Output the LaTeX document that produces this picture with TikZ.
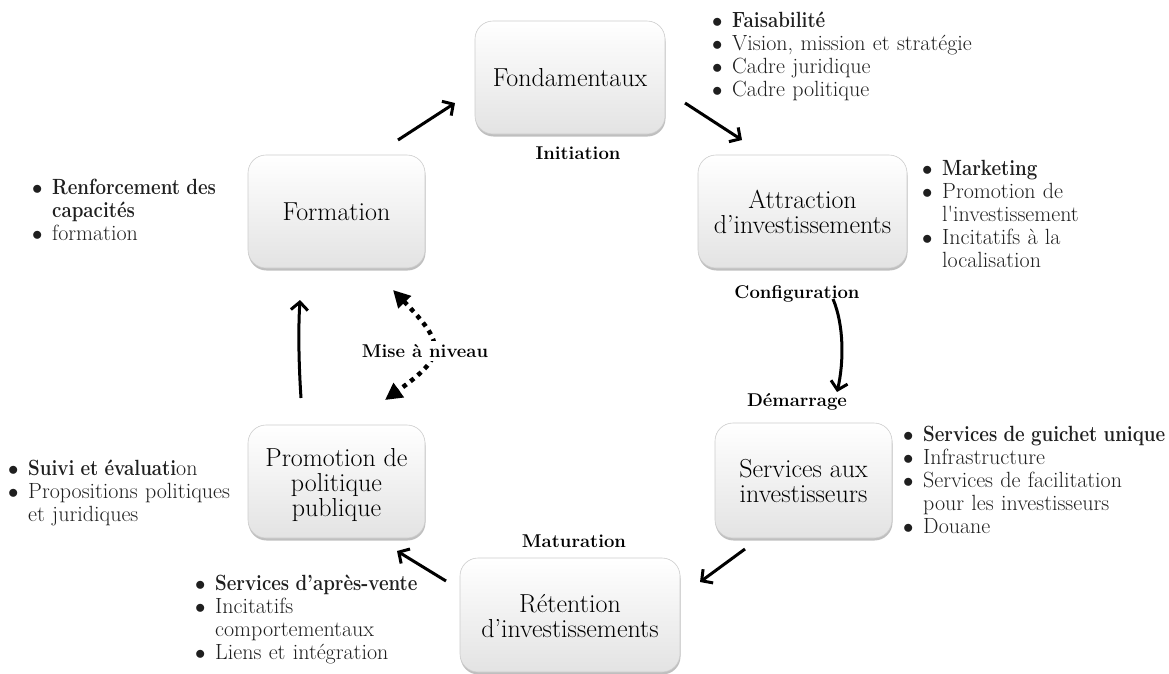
\documentclass[tikz,border=0pt]{standalone}
\usepackage{graphicx}
\usetikzlibrary{arrows.meta,shadows}
\newcommand\bitem{\par\hangindent=20pt\hangafter=1\noindent\makebox[20pt][l]{$\bullet$}}
\newcommand\bb[1]{\scalebox{0.85}[1]{\bfseries #1}}
\newcommand\ml[1]{\vbox{\baselineskip=25pt\halign{\hfil##\hfil\cr#1\crcr}}}
\begin{document}
\begin{tikzpicture}[x=1pt,y=-1pt,
  box/.style={draw=black!20, line width=0.6pt, rounded corners=18pt,
    top color=white, middle color=white, bottom color=black!11,
    drop shadow={opacity=0.5, shadow xshift=0.5pt, shadow yshift=-2.5pt},
    inner sep=2pt, text=black,
    font=\fontsize{26}{25}\selectfont},
  two/.style={text height=51pt, text depth=7pt},
  three/.style={text height=77pt, text depth=7pt},
  phase/.style={font=\bfseries\fontsize{18.5}{20}\selectfont, text=black, inner sep=1pt},
  blist/.style={anchor=north west, inner sep=0pt, text width=300pt, align=left,
    font=\fontsize{22}{23}\selectfont, text=black!88},
  arr/.style={line width=3pt, -{Straight Barb[length=8pt,width=17pt]}},
  dotarr/.style={line width=4.5pt, dash pattern=on 4.5pt off 5pt,
    {Triangle[length=17pt,width=17pt]}-{Triangle[length=17pt,width=17pt]}}
]
\useasboundingbox (0,0) rectangle (1169,673);

% boxes
\node[box, minimum width=190pt, minimum height=113pt] (fond) at (570,77.5) {Fondamentaux};
\node[box, two, minimum width=209pt, minimum height=113pt] (attr) at (802.5,211.5) {\ml{Attraction\cr d’investissements}};
\node[box, minimum width=177pt, minimum height=113pt] (form) at (336.5,211.5) {Formation};
\node[box, two, minimum width=177pt, minimum height=115pt] (serv) at (803.5,480.5) {\ml{Services aux\cr investisseurs}};
\node[box, three, minimum width=177pt, minimum height=113pt] (prom) at (336.5,481.5) {\ml{Promotion de\cr politique\cr publique}};
\node[box, two, minimum width=220pt, minimum height=114pt] (ret) at (570,615) {\ml{Rétention\cr d’investissements}};

% phase labels
\node[phase] (init) at (578,153) {Initiation};
\node[phase] (conf) at (797,294) {Configuration};
\node[phase] (dema) at (797,402) {Démarrage};
\node[phase] (matu) at (574,541) {Maturation};

% lists
\node[blist] (lfond) at (712,4) {\bitem\bb{Faisabilité}\bitem Vision, mission et stratégie\bitem Cadre juridique\bitem Cadre politique\par};
\node[blist, text width=230pt] (lattr) at (922,152) {\bitem\bb{Marketing}\bitem Promotion de\newline l\textquotesingle investissement\bitem Incitatifs à la\newline localisation\par};
\node[blist, text width=240pt] (lform) at (32,171) {\bitem\bb{Renforcement des}\newline\bb{capacités}\bitem formation\par};
\node[blist, text width=270pt] (lprom) at (8,452) {\bitem\bb{Suivi et évaluati}on\bitem Propositions politiques\newline et juridiques\par};
\node[blist, text width=270pt] (lret) at (195,567) {\bitem\bb{Services d’après-vente}\bitem Incitatifs\newline comportementaux\bitem Liens et intégration\par};
\node[blist, text width=266pt] (lserv) at (903,418) {\bitem\bb{Services de guichet unique}\bitem Infrastructure\bitem Services de facilitation\newline pour les investisseurs\bitem Douane\par};

% connector end points
\coordinate (a1s) at (398,140); \coordinate (a1e) at (455,103);
\coordinate (a2s) at (685,103); \coordinate (a2e) at (742,140);
\coordinate (a3s) at (833,299); \coordinate (a3e) at (837,392);
\coordinate (a4s) at (745,549); \coordinate (a4e) at (700,582);
\coordinate (a5s) at (446,581); \coordinate (a5e) at (397,551);
\coordinate (a6s) at (301,398); \coordinate (a6e) at (300,300);
\coordinate (mA) at (393,290); \coordinate (mB) at (385,400);

\draw[arr] (a1s) -- (a1e);
\draw[arr] (a2s) -- (a2e);
\draw[arr] (a3s) .. controls (844,325) and (844,362) .. (a3e);
\draw[arr] (a4s) -- (a4e);
\draw[arr] (a5s) -- (a5e);
\draw[arr] (a6s) .. controls (299,368) and (298,332) .. (a6e);
\draw[dotarr] (mA) .. controls (446,345) and (446,356) .. (mB);
\node[phase, fill=white, inner sep=3pt] (mise) at (425,351) {Mise à niveau};
\end{tikzpicture}
\end{document}
